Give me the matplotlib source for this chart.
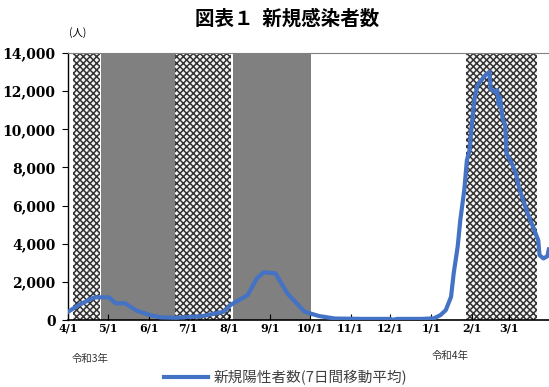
import matplotlib
matplotlib.use("Agg")
import matplotlib.pyplot as plt
import numpy as np
import pandas as pd

plt.rcParams['font.family'] = ['Noto Sans CJK JP', 'DejaVu Sans']
plt.rcParams['hatch.linewidth'] = 1.1

# 7-day moving average of new positives
dates = pd.to_datetime([
    "2021-04-01", "2021-04-09", "2021-04-21", "2021-05-02", "2021-05-07", "2021-05-14",
    "2021-05-23", "2021-06-02", "2021-06-10", "2021-06-22", "2021-07-12", "2021-07-28",
    "2021-08-02", "2021-08-15", "2021-08-22", "2021-08-27", "2021-09-05", "2021-09-14",
    "2021-09-27", "2021-10-08", "2021-10-20", "2021-11-10", "2021-12-01", "2021-12-03",
    "2021-12-06", "2021-12-25", "2022-01-03", "2022-01-08", "2022-01-12", "2022-01-16",
    "2022-01-18", "2022-01-21", "2022-01-23", "2022-01-26", "2022-01-28", "2022-01-30",
    "2022-02-01", "2022-02-03", "2022-02-05", "2022-02-07", "2022-02-11", "2022-02-14",
    "2022-02-15", "2022-02-18", "2022-02-20", "2022-02-21", "2022-02-22", "2022-02-24",
    "2022-02-26", "2022-02-27", "2022-03-03", "2022-03-06", "2022-03-09", "2022-03-15",
    "2022-03-20", "2022-03-23", "2022-03-24", "2022-03-27", "2022-03-30", "2022-03-31",
])
cases = [
    430, 790, 1190, 1190, 880, 880,
    490, 260, 140, 120, 210, 440,
    790, 1310, 2190, 2500, 2450, 1400,
    440, 210, 80, 60, 60, 10,
    60, 60, 90, 260, 520, 1220,
    2450, 3840, 5240, 6810, 8380, 8900,
    10480, 11700, 12300, 12490, 12840, 13010,
    12140, 11960, 12050, 11270, 11700, 10570,
    10220, 8740, 8210, 7690, 6810, 5590,
    4720, 4190, 3400, 3230, 3350, 3700,
]

# (start, end) of shaded periods
hatch_periods = [("2021-04-05", "2021-04-25"), ("2021-06-21", "2021-08-02"),
                 ("2022-01-27", "2022-03-22")]
gray_periods = [("2021-04-26", "2021-06-21"), ("2021-08-04", "2021-10-02")]

month_ticks = pd.date_range("2021-04-01", "2022-03-01", freq="MS")
tick_labels = [f"{d.month}/1" for d in month_ticks]

fig = plt.figure(figsize=(5.49, 3.87), dpi=100)
ax = fig.add_axes([0.124, 0.173, 0.878, 0.69])

for s, e in hatch_periods:
    ax.axvspan(pd.Timestamp(s), pd.Timestamp(e), facecolor='#f4f4f4', edgecolor='#333333',
               hatch='xxxxx', linewidth=0, zorder=1)
for s, e in gray_periods:
    ax.axvspan(pd.Timestamp(s), pd.Timestamp(e), facecolor='#808080', linewidth=0, zorder=1)

ax.plot(dates, cases, color='#4472C4', linewidth=3, zorder=3,
        label='新規陽性者数(7日間移動平均)', solid_joinstyle='round')

ax.set_xlim(pd.Timestamp("2021-04-01"), pd.Timestamp("2022-04-01"))
ax.set_ylim(0, 14000)
ax.set_yticks(np.arange(0, 14001, 2000))
ax.set_yticklabels([f"{v:,}" for v in range(0, 14001, 2000)],
                   fontfamily='DejaVu Serif', fontweight='bold', fontsize=10)
ax.set_xticks(month_ticks)
ax.set_xticklabels(tick_labels, fontfamily='DejaVu Serif', fontweight='bold', fontsize=8)
ax.tick_params(axis='y', direction='out', length=4, width=0.8, pad=5)
ax.tick_params(axis='x', direction='in', length=4, width=0.8, pad=2)

ax.spines['right'].set_visible(False)
ax.spines['top'].set_color('#808080')
ax.spines['left'].set_linewidth(1.0)
ax.spines['bottom'].set_linewidth(1.2)

fig.text(0.523, 0.952, '図表１  新規感染者数', ha='center', va='center',
         fontsize=14, fontweight='bold')
fig.text(0.142, 0.915, '(人)', ha='center', va='center', fontsize=7.5)
fig.text(0.165, 0.073, '令和3年', ha='center', va='center', fontsize=7.5, color='#333333')
fig.text(0.82, 0.081, '令和4年', ha='center', va='center', fontsize=7.5, color='#333333')

fig.legend(loc='center', bbox_to_anchor=(0.52, 0.025), frameon=False, fontsize=10.5,
           handlelength=3.0, handletextpad=0.4, labelcolor='#404040')

fig.savefig("out.png", dpi=100)
